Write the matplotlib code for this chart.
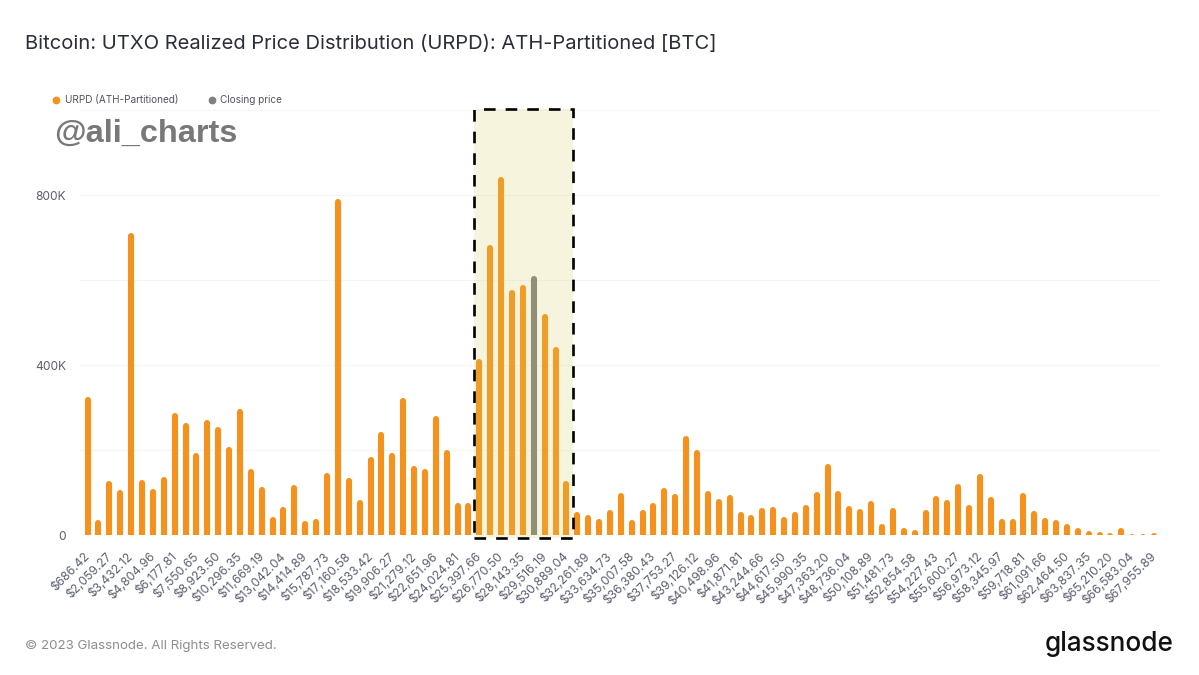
import matplotlib
matplotlib.use('Agg')
import matplotlib.pyplot as plt
from matplotlib.patches import Rectangle
from matplotlib.lines import Line2D
from matplotlib.transforms import ScaledTranslation
import numpy as np

plt.rcParams['font.family'] = ['Inter', 'DejaVu Sans']

# every second bin is labelled on the axis
tick_labels = ['$686.42', '$2,059.27', '$3,432.12', '$4,804.96', '$6,177.81', '$7,550.65', '$8,923.50',
               '$10,296.35', '$11,669.19', '$13,042.04', '$14,414.89', '$15,787.73', '$17,160.58',
               '$18,533.42', '$19,906.27', '$21,279.12', '$22,651.96', '$24,024.81', '$25,397.66',
               '$26,770.50', '$28,143.35', '$29,516.19', '$30,889.04', '$32,261.89', '$33,634.73',
               '$35,007.58', '$36,380.43', '$37,753.27', '$39,126.12', '$40,498.96', '$41,871.81',
               '$43,244.66', '$44,617.50', '$45,990.35', '$47,363.20', '$48,736.04', '$50,108.89',
               '$51,481.73', '$52,854.58', '$54,227.43', '$55,600.27', '$56,973.12', '$58,345.97',
               '$59,718.81', '$61,091.66', '$62,464.50', '$63,837.35', '$65,210.20', '$66,583.04',
               '$67,955.89']

# supply per bin in thousands of BTC
urpd_k = [324, 35, 127, 106, 711, 130, 108, 137, 287, 263,
          192, 271, 254, 207, 297, 155, 113, 42, 66, 118,
          33, 38, 146, 791, 134, 82, 184, 243, 192, 323,
          163, 156, 280, 200, 75, 75, 414, 682, 843, 576,
          588, 609, 520, 442, 127, 53, 47, 38, 59, 99,
          35, 59, 75, 111, 97, 233, 200, 104, 85, 94,
          54, 47, 64, 66, 42, 54, 71, 101, 167, 104,
          68, 61, 80, 26, 64, 16, 12, 59, 92, 82,
          120, 71, 144, 90, 38, 38, 99, 57, 40, 35,
          26, 16, 9, 7, 3, 16, 2, 2, 5]
closing_bin = 41

orange = '#f5921e'
gray = '#808080'
W, H = 1199, 675

vals = np.array(urpd_k, dtype=float)
xs = np.arange(len(vals))
colors = [gray if i == closing_bin else orange for i in xs]

fig = plt.figure(figsize=(W / 100, H / 100), dpi=100, facecolor='white')
ax = fig.add_axes([80 / W, 1 - 535 / H, 1080 / W, 426 / H])

# round caps: pull the line end down by the cap radius, axes clip the bottom cap
cap_r = 6.5
ax.vlines(xs, -20, vals - cap_r, colors=colors, linewidth=4.4, capstyle='round', zorder=3)

ax.set_xlim(-0.7, 98.55)
ax.set_ylim(0, 1003)
ax.set_yticks([0, 200, 400, 600, 800, 1000])
ax.set_yticklabels(['0', '', '400K', '', '800K', ''], fontsize=8.6, color='#5a5f6a')
ax.set_xticks(xs[::2])
ax.set_xticklabels(tick_labels, rotation=45, ha='right', va='top', rotation_mode='anchor',
                   fontsize=8.7, color='#5a6070')
ax.tick_params(axis='both', length=0)
ax.tick_params(axis='x', pad=11)
ax.tick_params(axis='y', pad=10)
shift = ScaledTranslation(-4 / 100, 0, fig.dpi_scale_trans)
for lab in ax.get_xticklabels():
    lab.set_transform(lab.get_transform() + shift)
ax.grid(axis='y', color='#f5f5f5', linewidth=0.8, zorder=0)
ax.set_axisbelow(True)
for s in ax.spines.values():
    s.set_visible(False)

# highlight box sits on top of the bars like in the original
fig.add_artist(Rectangle((474 / W, 1 - 538 / H), 99 / W, 429 / H, transform=fig.transFigure,
                         facecolor=(0.85, 0.8, 0.35, 0.2), edgecolor='none', zorder=5))
fig.add_artist(Rectangle((474 / W, 1 - 538 / H), 99 / W, 429 / H, transform=fig.transFigure,
                         facecolor='none', edgecolor='black', linewidth=1.9,
                         linestyle=(0, (4.4, 3.8)), zorder=6))

fig.text(25 / W, 1 - 43.5 / H, 'Bitcoin: UTXO Realized Price Distribution (URPD): ATH-Partitioned [BTC]',
         fontsize=14.5, color='#2b2f38', va='center', ha='left')

# legend
fig.add_artist(Line2D([56 / W], [1 - 100 / H], marker='o', markersize=4.6, color=orange,
                      transform=fig.transFigure))
fig.text(65 / W, 1 - 100 / H, 'URPD (ATH-Partitioned)', fontsize=7.2, color='#4f5564', va='center')
fig.add_artist(Line2D([212 / W], [1 - 100 / H], marker='o', markersize=4.6, color=gray,
                      transform=fig.transFigure))
fig.text(220 / W, 1 - 100 / H, 'Closing price', fontsize=7.2, color='#4f5564', va='center')

fig.text(54 / W, 1 - 134 / H, '@ali_charts', fontsize=23.4, fontweight='bold', family='Liberation Sans',
         color='#787878', va='center', zorder=7)

fig.text(25 / W, 1 - 646 / H, '\u00a9 2023 Glassnode. All Rights Reserved.', fontsize=9.6,
         color='#8a8d94', va='center')
fig.text(1174 / W, 1 - 644 / H, 'glassnode', fontsize=18.8, family='Inter', fontweight='medium',
         color='#111111', va='center', ha='right')

fig.savefig('out.png', dpi=100)
